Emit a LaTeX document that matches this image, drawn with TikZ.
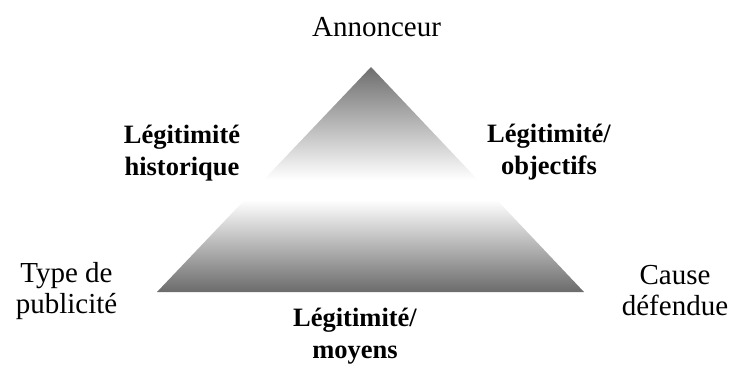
\documentclass[tikz,border=0pt]{standalone}
\usepackage{fontspec}
\setmainfont{Liberation Serif}
\usepackage{tikz}
\usetikzlibrary{positioning}

\definecolor{haut}{gray}{0.43}
\definecolor{bas}{gray}{0.42}
\pgfdeclareverticalshading{pyramide}{100bp}{color(0bp)=(bas); color(25bp)=(bas); color(45.5bp)=(white); color(50bp)=(white); color(75bp)=(haut); color(100bp)=(haut)}

\begin{document}
\begin{tikzpicture}[x=1pt, y=-1pt, every node/.style={align=center, inner sep=0pt, anchor=base, font=\fontsize{29}{31}\selectfont}, titre/.style={font=\fontsize{26.5}{32}\selectfont\bfseries}]
    \useasboundingbox (0,0) rectangle (734,368);

    \coordinate (sommet) at (371,67);
    \coordinate (gauche) at (157,292);
    \coordinate (droite) at (584,292);
    \shade[shading=pyramide] (sommet) -- (gauche) -- (droite) -- cycle;

    % base = ligne du bas
    \node (annonceur) at (376.5,36) {Annonceur};
    \node (type) at (66.5,313) {Type de\\publicité};
    \node (cause) at (675,315) {Cause\\défendue};
    \node[titre] (historique) at (182,175) {Légitimité\\historique};
    \node[titre] (objectifs) at (549,174) {Légitimité/\\objectifs};
    \node[titre] (moyens) at (355,358) {Légitimité/\\moyens};
\end{tikzpicture}
\end{document}
